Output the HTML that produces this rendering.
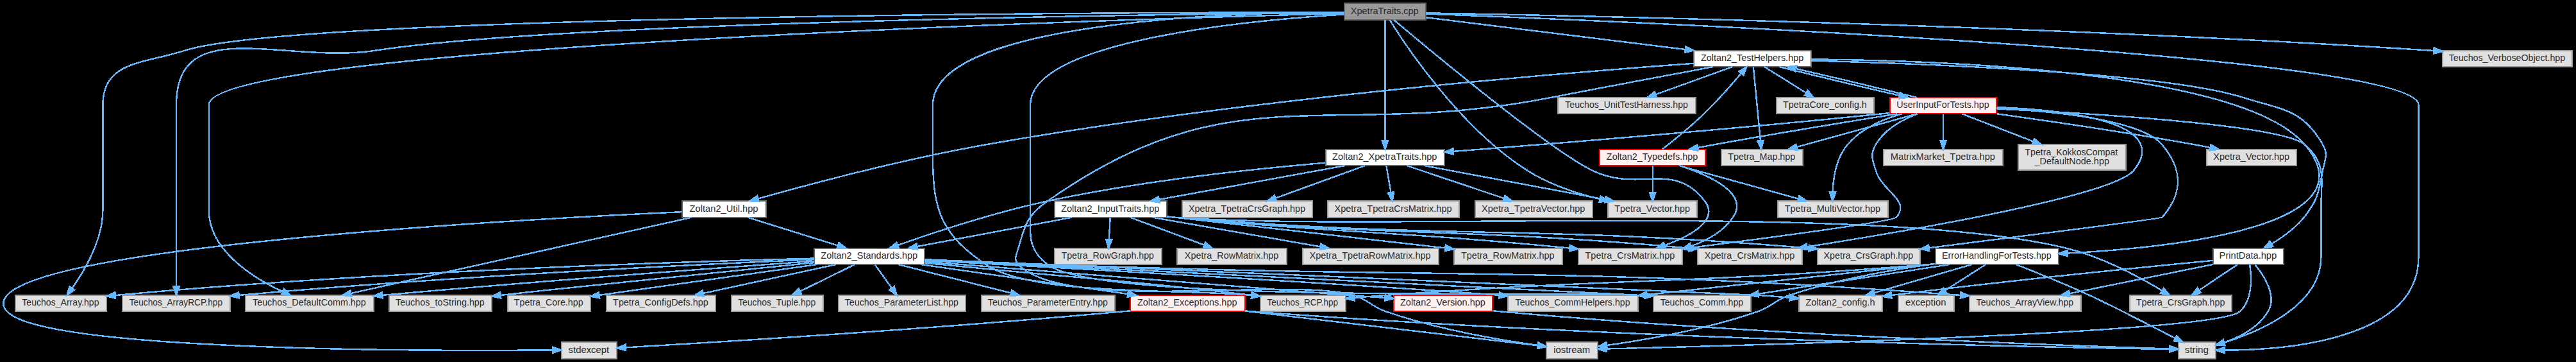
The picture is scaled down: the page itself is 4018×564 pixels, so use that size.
<!DOCTYPE html>
<html><head><meta charset="utf-8"><title>XpetraTraits.cpp include dependency graph</title>
<style>
html,body{margin:0;padding:0;background:#000;width:4018px;height:564px;}
svg{display:block;}
text{font-family:"Liberation Sans",sans-serif;font-size:10.6px;fill:#2a2a2a;}
.e{fill:none;stroke:#63b8ff;stroke-width:1.8;shape-rendering:crispEdges;}
.a{fill:#63b8ff;stroke:#63b8ff;stroke-width:1.8;shape-rendering:crispEdges;}
.n{stroke-width:1.5;shape-rendering:crispEdges;}
</style></head><body>
<svg width="4018" height="564" viewBox="0 0 3013.5 423">
<rect x="0" y="0" width="3013.5" height="423" fill="#000"/>
<g transform="translate(4 419)">
<rect class="n" x="1568.79" y="-415" width="95" height="19" fill="#999999" stroke="#666666"/>
<text text-anchor="middle" x="1615.8" y="-402.7" textLength="79.38" lengthAdjust="spacingAndGlyphs">XpetraTraits.cpp</text>
<rect class="n" x="1546.79" y="-244.5" width="139" height="19" fill="white" stroke="#666666"/>
<text text-anchor="middle" x="1615.8" y="-232.2" textLength="122.48" lengthAdjust="spacingAndGlyphs">Zoltan2_XpetraTraits.hpp</text>
<rect class="n" x="13.79" y="-74" width="107" height="19" fill="#e0e0e0" stroke="#999999"/>
<text text-anchor="middle" x="66.8" y="-61.7" textLength="90.19" lengthAdjust="spacingAndGlyphs">Teuchos_Array.hpp</text>
<rect class="n" x="1470.29" y="-74" width="100" height="19" fill="#e0e0e0" stroke="#999999"/>
<text text-anchor="middle" x="1519.8" y="-61.7" textLength="82.8" lengthAdjust="spacingAndGlyphs">Teuchos_RCP.hpp</text>
<rect class="n" x="283.29" y="-74" width="150" height="19" fill="#e0e0e0" stroke="#999999"/>
<text text-anchor="middle" x="357.8" y="-61.7" textLength="132.58" lengthAdjust="spacingAndGlyphs">Teuchos_DefaultComm.hpp</text>
<rect class="n" x="1877.29" y="-184" width="104" height="19" fill="#e0e0e0" stroke="#999999"/>
<text text-anchor="middle" x="1928.8" y="-171.7" textLength="88.38" lengthAdjust="spacingAndGlyphs">Tpetra_Vector.hpp</text>
<rect class="n" x="1930.29" y="-74" width="114" height="19" fill="#e0e0e0" stroke="#999999"/>
<text text-anchor="middle" x="1986.8" y="-61.7" textLength="97.06" lengthAdjust="spacingAndGlyphs">Teuchos_Comm.hpp</text>
<rect class="n" x="139.29" y="-74" width="126" height="19" fill="#e0e0e0" stroke="#999999"/>
<text text-anchor="middle" x="201.8" y="-61.7" textLength="108.98" lengthAdjust="spacingAndGlyphs">Teuchos_ArrayRCP.hpp</text>
<rect class="n" x="1842.29" y="-129" width="122" height="19" fill="#e0e0e0" stroke="#999999"/>
<text text-anchor="middle" x="1902.8" y="-116.7" textLength="104.75" lengthAdjust="spacingAndGlyphs">Tpetra_CrsMatrix.hpp</text>
<rect class="n" x="2544.29" y="-19" width="44" height="19" fill="#e0e0e0" stroke="#999999"/>
<text text-anchor="middle" x="2565.8" y="-6.7" textLength="27.9" lengthAdjust="spacingAndGlyphs">string</text>
<rect class="n" x="1977.79" y="-360" width="137" height="19" fill="white" stroke="#666666"/>
<text text-anchor="middle" x="2045.8" y="-347.7" textLength="120.21" lengthAdjust="spacingAndGlyphs">Zoltan2_TestHelpers.hpp</text>
<rect class="n" x="2853.29" y="-360" width="152" height="19" fill="#e0e0e0" stroke="#999999"/>
<text text-anchor="middle" x="2928.8" y="-347.7" textLength="136.08" lengthAdjust="spacingAndGlyphs">Teuchos_VerboseObject.hpp</text>
<rect class="n" x="948.79" y="-129" width="129" height="19" fill="white" stroke="#666666"/>
<text text-anchor="middle" x="1012.8" y="-116.7" textLength="113.15" lengthAdjust="spacingAndGlyphs">Zoltan2_Standards.hpp</text>
<rect class="n" x="1229.79" y="-184" width="131" height="19" fill="white" stroke="#666666"/>
<text text-anchor="middle" x="1294.8" y="-171.7" textLength="115.07" lengthAdjust="spacingAndGlyphs">Zoltan2_InputTraits.hpp</text>
<rect class="n" x="1379.29" y="-184" width="152" height="19" fill="#e0e0e0" stroke="#999999"/>
<text text-anchor="middle" x="1454.8" y="-171.7" textLength="136.54" lengthAdjust="spacingAndGlyphs">Xpetra_TpetraCrsGraph.hpp</text>
<rect class="n" x="1549.29" y="-184" width="154" height="19" fill="#e0e0e0" stroke="#999999"/>
<text text-anchor="middle" x="1625.8" y="-171.7" textLength="137.32" lengthAdjust="spacingAndGlyphs">Xpetra_TpetraCrsMatrix.hpp</text>
<rect class="n" x="1721.79" y="-184" width="137" height="19" fill="#e0e0e0" stroke="#999999"/>
<text text-anchor="middle" x="1789.8" y="-171.7" textLength="120.96" lengthAdjust="spacingAndGlyphs">Xpetra_TpetraVector.hpp</text>
<rect class="n" x="2009.79" y="-244.5" width="95" height="19" fill="#e0e0e0" stroke="#999999"/>
<text text-anchor="middle" x="2056.8" y="-232.2" textLength="78.82" lengthAdjust="spacingAndGlyphs">Tpetra_Map.hpp</text>
<rect class="n" x="976.79" y="-74" width="149" height="19" fill="#e0e0e0" stroke="#999999"/>
<text text-anchor="middle" x="1050.8" y="-61.7" textLength="132.95" lengthAdjust="spacingAndGlyphs">Teuchos_ParameterList.hpp</text>
<rect class="n" x="652.79" y="-19" width="65" height="19" fill="#e0e0e0" stroke="#999999"/>
<text text-anchor="middle" x="684.8" y="-6.7" textLength="47.74" lengthAdjust="spacingAndGlyphs">stdexcept</text>
<rect class="n" x="1144.29" y="-74" width="156" height="19" fill="#e0e0e0" stroke="#999999"/>
<text text-anchor="middle" x="1221.8" y="-61.7" textLength="140.44" lengthAdjust="spacingAndGlyphs">Teuchos_ParameterEntry.hpp</text>
<rect class="n" x="1626.29" y="-74" width="116" height="19" fill="#fff0f0" stroke="red"/>
<text text-anchor="middle" x="1683.8" y="-61.7" textLength="99.61" lengthAdjust="spacingAndGlyphs">Zoltan2_Version.hpp</text>
<rect class="n" x="1318.29" y="-74" width="134" height="19" fill="#fff0f0" stroke="red"/>
<text text-anchor="middle" x="1384.8" y="-61.7" textLength="116.77" lengthAdjust="spacingAndGlyphs">Zoltan2_Exceptions.hpp</text>
<rect class="n" x="451.29" y="-74" width="120" height="19" fill="#e0e0e0" stroke="#999999"/>
<text text-anchor="middle" x="510.8" y="-61.7" textLength="104.16" lengthAdjust="spacingAndGlyphs">Teuchos_toString.hpp</text>
<rect class="n" x="589.79" y="-74" width="97" height="19" fill="#e0e0e0" stroke="#999999"/>
<text text-anchor="middle" x="637.8" y="-61.7" textLength="80.8" lengthAdjust="spacingAndGlyphs">Tpetra_Core.hpp</text>
<rect class="n" x="1760.29" y="-74" width="152" height="19" fill="#e0e0e0" stroke="#999999"/>
<text text-anchor="middle" x="1835.8" y="-61.7" textLength="134.27" lengthAdjust="spacingAndGlyphs">Teuchos_CommHelpers.hpp</text>
<rect class="n" x="705.29" y="-74" width="128" height="19" fill="#e0e0e0" stroke="#999999"/>
<text text-anchor="middle" x="768.8" y="-61.7" textLength="111.44" lengthAdjust="spacingAndGlyphs">Tpetra_ConfigDefs.hpp</text>
<rect class="n" x="2299.79" y="-74" width="131" height="19" fill="#e0e0e0" stroke="#999999"/>
<text text-anchor="middle" x="2364.8" y="-61.7" textLength="113.75" lengthAdjust="spacingAndGlyphs">Teuchos_ArrayView.hpp</text>
<rect class="n" x="851.79" y="-74" width="107" height="19" fill="#e0e0e0" stroke="#999999"/>
<text text-anchor="middle" x="904.8" y="-61.7" textLength="90.87" lengthAdjust="spacingAndGlyphs">Teuchos_Tuple.hpp</text>
<rect class="n" x="2100.29" y="-74" width="98" height="19" fill="#e0e0e0" stroke="#999999"/>
<text text-anchor="middle" x="2148.8" y="-61.7" textLength="81.27" lengthAdjust="spacingAndGlyphs">Zoltan2_config.h</text>
<rect class="n" x="1818.79" y="-305" width="161" height="19" fill="#e0e0e0" stroke="#999999"/>
<text text-anchor="middle" x="1898.8" y="-292.7" textLength="143.68" lengthAdjust="spacingAndGlyphs">Teuchos_UnitTestHarness.hpp</text>
<rect class="n" x="1696.79" y="-129" width="127" height="19" fill="#e0e0e0" stroke="#999999"/>
<text text-anchor="middle" x="1759.8" y="-116.7" textLength="109.12" lengthAdjust="spacingAndGlyphs">Tpetra_RowMatrix.hpp</text>
<rect class="n" x="794.29" y="-184" width="98" height="19" fill="white" stroke="#666666"/>
<text text-anchor="middle" x="842.8" y="-171.7" textLength="80.19" lengthAdjust="spacingAndGlyphs">Zoltan2_Util.hpp</text>
<rect class="n" x="1805.29" y="-19" width="60" height="19" fill="#e0e0e0" stroke="#999999"/>
<text text-anchor="middle" x="1834.8" y="-6.7" textLength="42.71" lengthAdjust="spacingAndGlyphs">iostream</text>
<rect class="n" x="2487.79" y="-74" width="119" height="19" fill="#e0e0e0" stroke="#999999"/>
<text text-anchor="middle" x="2546.8" y="-61.7" textLength="103.96" lengthAdjust="spacingAndGlyphs">Tpetra_CrsGraph.hpp</text>
<rect class="n" x="1229.79" y="-129" width="125" height="19" fill="#e0e0e0" stroke="#999999"/>
<text text-anchor="middle" x="1291.8" y="-116.7" textLength="108.33" lengthAdjust="spacingAndGlyphs">Tpetra_RowGraph.hpp</text>
<rect class="n" x="2357.29" y="-250" width="126" height="30" fill="#e0e0e0" stroke="#999999"/>
<text text-anchor="start" x="2364.8" y="-237.7" textLength="108.61" lengthAdjust="spacingAndGlyphs">Tpetra_KokkosCompat</text>
<text text-anchor="middle" x="2419.8" y="-226.7" textLength="87.34" lengthAdjust="spacingAndGlyphs">_DefaultNode.hpp</text>
<rect class="n" x="1373.29" y="-129" width="128" height="19" fill="#e0e0e0" stroke="#999999"/>
<text text-anchor="middle" x="1436.8" y="-116.7" textLength="109.84" lengthAdjust="spacingAndGlyphs">Xpetra_RowMatrix.hpp</text>
<rect class="n" x="1982.29" y="-129" width="122" height="19" fill="#e0e0e0" stroke="#999999"/>
<text text-anchor="middle" x="2042.8" y="-116.7" textLength="105.47" lengthAdjust="spacingAndGlyphs">Xpetra_CrsMatrix.hpp</text>
<rect class="n" x="2122.29" y="-129" width="120" height="19" fill="#e0e0e0" stroke="#999999"/>
<text text-anchor="middle" x="2181.8" y="-116.7" textLength="104.68" lengthAdjust="spacingAndGlyphs">Xpetra_CrsGraph.hpp</text>
<rect class="n" x="1519.79" y="-129" width="159" height="19" fill="#e0e0e0" stroke="#999999"/>
<text text-anchor="middle" x="1598.8" y="-116.7" textLength="141.69" lengthAdjust="spacingAndGlyphs">Xpetra_TpetraRowMatrix.hpp</text>
<rect class="n" x="2075.79" y="-184" width="129" height="19" fill="#e0e0e0" stroke="#999999"/>
<text text-anchor="middle" x="2139.8" y="-171.7" textLength="112.14" lengthAdjust="spacingAndGlyphs">Tpetra_MultiVector.hpp</text>
<rect class="n" x="2074.29" y="-305" width="114" height="19" fill="#e0e0e0" stroke="#999999"/>
<text text-anchor="middle" x="2130.8" y="-292.7" textLength="98.2" lengthAdjust="spacingAndGlyphs">TpetraCore_config.h</text>
<rect class="n" x="2577.79" y="-244.5" width="105" height="19" fill="#e0e0e0" stroke="#999999"/>
<text text-anchor="middle" x="2629.8" y="-232.2" textLength="89.11" lengthAdjust="spacingAndGlyphs">Xpetra_Vector.hpp</text>
<rect class="n" x="2216.79" y="-74" width="65" height="19" fill="#e0e0e0" stroke="#999999"/>
<text text-anchor="middle" x="2248.8" y="-61.7" textLength="47.51" lengthAdjust="spacingAndGlyphs">exception</text>
<rect class="n" x="2584.79" y="-129" width="83" height="19" fill="white" stroke="#666666"/>
<text text-anchor="middle" x="2625.8" y="-116.7" textLength="67.16" lengthAdjust="spacingAndGlyphs">PrintData.hpp</text>
<rect class="n" x="2260.29" y="-129" width="144" height="19" fill="white" stroke="#666666"/>
<text text-anchor="middle" x="2331.8" y="-116.7" textLength="128" lengthAdjust="spacingAndGlyphs">ErrorHandlingForTests.hpp</text>
<rect class="n" x="2206.79" y="-305" width="125" height="19" fill="#fff0f0" stroke="red"/>
<text text-anchor="middle" x="2268.8" y="-292.7" textLength="108.31" lengthAdjust="spacingAndGlyphs">UserInputForTests.hpp</text>
<rect class="n" x="2199.29" y="-244.5" width="140" height="19" fill="#e0e0e0" stroke="#999999"/>
<text text-anchor="middle" x="2268.8" y="-232.2" textLength="122.32" lengthAdjust="spacingAndGlyphs">MatrixMarket_Tpetra.hpp</text>
<rect class="n" x="1867.29" y="-244.5" width="124" height="19" fill="#fff0f0" stroke="red"/>
<text text-anchor="middle" x="1928.8" y="-232.2" textLength="106.83" lengthAdjust="spacingAndGlyphs">Zoltan2_Typedefs.hpp</text>
<path class="e" d="M1616.29,-395.91C1616.29,-369.89 1616.29,-291.47 1616.29,-255.01"/>
<polygon class="a" points="1619.79,-254.77 1616.29,-244.77 1612.79,-254.77"/>
<path class="e" d="M1568.76,-404.53C1338.38,-404.48 343.66,-401.8 212.29,-360 163.54,-344.49 116.29,-347.66 116.29,-296.5 116.29,-296.5 116.29,-296.5 116.29,-173.5 116.29,-138.68 94.91,-102.74 80.39,-82.35"/>
<polygon class="a" points="83.07,-80.09 74.31,-74.13 77.45,-84.25"/>
<path class="e" d="M1568.41,-404.82C1438.19,-404.4 1087.29,-394.22 1087.29,-296.5 1087.29,-296.5 1087.29,-296.5 1087.29,-234 1087.29,-172.38 1098.12,-144.32 1149.29,-110 1203.93,-72.46 1377.9,-82.03 1460.05,-73.96"/>
<polygon class="a" points="1460.54,-77.43 1470.09,-72.83 1459.76,-70.47"/>
<path class="e" d="M1568.52,-403.31C1325.77,-396.93 240.29,-364.61 240.29,-296.5 240.29,-296.5 240.29,-296.5 240.29,-173.5 240.29,-126.67 291.5,-94.67 326.45,-78.28"/>
<polygon class="a" points="328.13,-81.37 335.82,-74.08 325.26,-74.98"/>
<path class="e" d="M1621.68,-395.64C1640.16,-366.05 1704.1,-269.68 1782.29,-220 1807.95,-203.7 1839.9,-193.09 1867.46,-186.34"/>
<polygon class="a" points="1868.45,-189.7 1877.39,-184.02 1866.86,-182.88"/>
<path class="e" d="M1568.68,-402.15C1459.68,-395.46 1201.29,-371.69 1201.29,-296.5 1201.29,-296.5 1201.29,-296.5 1201.29,-173.5 1201.29,-143.91 1197.89,-128.11 1221.29,-110 1280.84,-63.92 1807.03,-79.81 1919.94,-73.84"/>
<polygon class="a" points="1920.34,-77.32 1930.08,-73.14 1919.86,-70.33"/>
<path class="e" d="M1568.67,-404.16C1376.72,-402.54 659.4,-394.3 435.29,-360 329.19,-343.76 202.29,-403.83 202.29,-296.5 202.29,-296.5 202.29,-296.5 202.29,-173.5 202.29,-142.19 202.29,-105.77 202.29,-84.23"/>
<polygon class="a" points="205.79,-84.18 202.29,-74.18 198.79,-84.18"/>
<path class="e" d="M1626.47,-395.88C1665.55,-362.96 1806.3,-245.68 1858.29,-220 1912.81,-193.07 1953.38,-232.33 1990.29,-184 2007.5,-161.47 1973.82,-143.36 1943.48,-132.33"/>
<polygon class="a" points="1944.42,-128.95 1933.82,-129 1942.14,-135.57"/>
<path class="e" d="M1664.06,-402.78C1888.25,-394.41 2825.29,-355.87 2825.29,-296.5 2825.29,-296.5 2825.29,-296.5 2825.29,-118.5 2825.29,-21.39 2668.26,-10.03 2598.74,-9.76"/>
<polygon class="a" points="2598.36,-6.26 2588.37,-9.8 2598.38,-13.26"/>
<path class="e" d="M1663.95,-398.63C1737.33,-389.58 1878.76,-372.15 1967.51,-361.21"/>
<polygon class="a" points="1968.04,-364.67 1977.54,-359.97 1967.18,-357.72"/>
<path class="e" d="M1663.84,-403.76C1827.44,-401 2382.13,-389.88 2839.29,-360 2840.57,-359.92 2841.85,-359.83 2843.15,-359.74"/>
<polygon class="a" points="2843.49,-363.22 2853.2,-359 2842.97,-356.24"/>
<path class="e" d="M1546.47,-228.78C1467.06,-222.01 1333.82,-208.12 1221.29,-184 1158.33,-170.51 1086.94,-146.81 1046.3,-132.49"/>
<polygon class="a" points="1047.25,-129.11 1036.65,-129.07 1044.9,-135.71"/>
<path class="e" d="M1661.8,-225.49C1717.9,-215.01 1813.19,-197.2 1873.6,-185.91"/>
<polygon class="a" points="1874.53,-189.29 1883.72,-184.02 1873.25,-182.41"/>
<path class="e" d="M1569.61,-225.49C1511.96,-214.99 1413.95,-197.12 1352.02,-185.84"/>
<polygon class="a" points="1352.49,-182.37 1342.02,-184.02 1351.23,-189.25"/>
<path class="e" d="M1592.88,-225.49C1565.33,-215.49 1519.42,-198.8 1488.28,-187.49"/>
<polygon class="a" points="1489.32,-184.14 1478.73,-184.02 1486.93,-190.72"/>
<path class="e" d="M1617.76,-225.37C1619.17,-217.16 1621.32,-204.54 1623.12,-194.05"/>
<polygon class="a" points="1626.57,-194.61 1624.81,-184.17 1619.67,-193.43"/>
<path class="e" d="M1641.59,-225.49C1671.49,-215.44 1721.41,-198.66 1755.07,-187.34"/>
<polygon class="a" points="1756.59,-190.52 1764.96,-184.02 1754.36,-183.89"/>
<path class="e" d="M1019.56,-109.75C1024.88,-102.34 1032.64,-91.5 1039.16,-82.41"/>
<polygon class="a" points="1042.15,-84.26 1045.13,-74.09 1036.46,-80.18"/>
<path class="e" d="M948.62,-117.1C804.08,-113.55 443.63,-102.5 131.04,-73.98"/>
<polygon class="a" points="131.15,-70.47 120.87,-73.04 130.51,-77.44"/>
<path class="e" d="M1046.87,-109.98C1082.64,-100.91 1139.41,-86.52 1178.63,-76.57"/>
<polygon class="a" points="1179.61,-79.93 1188.45,-74.08 1177.89,-73.15"/>
<path class="e" d="M1077.92,-113.35C1183.25,-105.08 1394.77,-88.32 1574.29,-74 1587.85,-73.04 1602.16,-72.02 1616.08,-71.03"/>
<polygon class="a" points="1616.56,-74.5 1626.25,-70.21 1616,-67.53"/>
<path class="e" d="M1077.95,-111.5C1084.47,-110.99 1090.95,-110.48 1097.29,-110 1255.18,-93.76 1298.74,-93.44 1459.92,-74.12"/>
<polygon class="a" points="1460.59,-77.56 1470.09,-72.88 1459.74,-70.62"/>
<path class="e" d="M1073.06,-109.98C1139.12,-100.57 1245.42,-85.43 1315.32,-75.47"/>
<polygon class="a" points="1315.95,-78.91 1325.36,-74.04 1314.97,-71.98"/>
<path class="e" d="M948.6,-113.95C844.56,-106.52 633.35,-90.99 443.55,-74.09"/>
<polygon class="a" points="443.66,-70.59 433.39,-73.19 443.04,-77.56"/>
<path class="e" d="M948.48,-112.19C866.01,-104.09 718.88,-89.35 581.87,-74.05"/>
<polygon class="a" points="581.94,-70.53 571.61,-72.9 581.16,-77.49"/>
<path class="e" d="M1078.01,-115.34C1271.43,-105.88 1836.41,-78.26 1919.88,-73.75"/>
<polygon class="a" points="1920.3,-77.23 1930.08,-73.15 1919.89,-70.24"/>
<path class="e" d="M948.45,-115.85C821.44,-110.38 530.77,-96.52 275.69,-74.07"/>
<polygon class="a" points="275.75,-70.56 265.48,-73.17 275.14,-77.54"/>
<path class="e" d="M951.91,-110C890.22,-101.42 792.12,-87.72 697.1,-74.11"/>
<polygon class="a" points="697.42,-70.62 687.02,-72.66 696.42,-77.55"/>
<path class="e" d="M1077.79,-114.88C1230.69,-106.43 1602.13,-85.33 1749.84,-74.08"/>
<polygon class="a" points="1750.15,-77.56 1759.84,-73.28 1749.6,-70.59"/>
<path class="e" d="M974.09,-109.98C931.88,-100.82 864.64,-86.21 818.81,-76.26"/>
<polygon class="a" points="819.31,-72.78 808.8,-74.08 817.83,-79.63"/>
<path class="e" d="M1077.93,-115.74C1118.99,-114.01 1173.25,-111.79 1221.29,-110 1693.42,-92.41 1815.05,-108.94 2289.35,-74.08"/>
<polygon class="a" points="2289.83,-77.56 2299.55,-73.33 2289.32,-70.58"/>
<path class="e" d="M995.94,-109.98C978.72,-101.54 952.09,-88.47 932.14,-78.68"/>
<polygon class="a" points="933.48,-75.43 922.96,-74.17 930.39,-81.72"/>
<path class="e" d="M1077.96,-115.81C1297.68,-106.68 2004.6,-77.2 2053.29,-74 2065.16,-73.22 2077.84,-72.22 2089.97,-71.18"/>
<polygon class="a" points="2090.33,-74.66 2099.99,-70.3 2089.72,-67.69"/>
<path class="e" d="M794.19,-171.4C622.58,-163.58 57.11,-133.45 4.29,-74 -1.32,-67.69 -1.48,-61.16 4.29,-55 47.9,-8.45 500.08,-8.73 642.55,-9.99"/>
<polygon class="a" points="642.62,-13.49 652.65,-10.08 642.69,-6.49"/>
<path class="e" d="M870.6,-164.98C899.14,-156.09 944.11,-142.07 975.93,-132.15"/>
<polygon class="a" points="977.26,-135.4 985.76,-129.08 975.17,-128.72"/>
<path class="e" d="M804.83,-164.94C717.19,-145.42 502.83,-97.69 406.53,-76.24"/>
<polygon class="a" points="407.28,-72.82 396.76,-74.07 405.76,-79.66"/>
<path class="e" d="M1742.36,-55.87C1745.38,-55.56 1748.37,-55.26 1751.29,-55 2055.17,-27.46 2424.46,-14.77 2534.12,-11.43"/>
<polygon class="a" points="2534.31,-14.92 2544.2,-11.12 2534.1,-7.93"/>
<path class="e" d="M1318.17,-55.84C1315.17,-55.55 1312.2,-55.27 1309.29,-55 1090.97,-35.01 828.98,-18.88 727.92,-12.95"/>
<polygon class="a" points="727.99,-9.45 717.81,-12.36 727.59,-16.43"/>
<path class="e" d="M1452.66,-55.57C1547.5,-44.4 1717.42,-24.38 1794.85,-15.26"/>
<polygon class="a" points="1795.63,-18.7 1805.15,-14.05 1794.81,-11.74"/>
<path class="e" d="M1452.4,-55.73C1455.4,-55.47 1458.38,-55.22 1461.29,-55 1884.45,-22.86 2400.65,-13.05 2533.76,-10.96"/>
<polygon class="a" points="2534.13,-14.46 2544.07,-10.81 2534.02,-7.46"/>
<path class="e" d="M1249.98,-164.98C1200.69,-155.72 1121.86,-140.9 1068.86,-130.94"/>
<polygon class="a" points="1069.43,-127.49 1058.95,-129.08 1068.13,-134.37"/>
<path class="e" d="M1361.14,-166.04C1364.23,-165.69 1367.29,-165.34 1370.29,-165 1508.31,-149.37 1545.28,-145.52 1686.35,-129.22"/>
<polygon class="a" points="1687.16,-132.65 1696.69,-128.03 1686.35,-125.7"/>
<path class="e" d="M1361.11,-165.74C1364.21,-165.47 1367.28,-165.22 1370.29,-165 1601.58,-147.93 2187.94,-183.79 2413.29,-129 2455.17,-118.82 2499.59,-94.79 2525.31,-79.38"/>
<polygon class="a" points="2527.19,-82.34 2533.9,-74.14 2523.54,-76.36"/>
<path class="e" d="M1294.79,-164.75C1294.4,-157.8 1293.84,-147.85 1293.34,-139.13"/>
<polygon class="a" points="1296.83,-138.88 1292.77,-129.09 1289.85,-139.27"/>
<path class="e" d="M1318.1,-164.98C1341.46,-156.27 1377.99,-142.63 1404.46,-132.75"/>
<polygon class="a" points="1405.91,-135.95 1414.06,-129.17 1403.47,-129.39"/>
<path class="e" d="M1361.13,-165.91C1364.22,-165.59 1367.29,-165.29 1370.29,-165 1572.44,-145.69 1626.18,-149.32 1831.99,-129.09"/>
<polygon class="a" points="1832.62,-132.54 1842.22,-128.07 1831.93,-125.58"/>
<path class="e" d="M1361.12,-165.84C1364.22,-165.54 1367.29,-165.26 1370.29,-165 1634.5,-142.16 1704.21,-152.92 1972.2,-129.04"/>
<polygon class="a" points="1972.58,-132.52 1982.23,-128.14 1971.96,-125.55"/>
<path class="e" d="M1361.12,-165.8C1364.21,-165.51 1367.28,-165.24 1370.29,-165 1696.45,-138.64 1782.14,-156.85 2111.78,-129.06"/>
<polygon class="a" points="2112.44,-132.52 2122.11,-128.18 2111.84,-125.54"/>
<path class="e" d="M1344.13,-164.98C1397.57,-155.67 1483.21,-140.74 1540.35,-130.78"/>
<polygon class="a" points="1541.07,-134.2 1550.32,-129.04 1539.86,-127.31"/>
<path class="e" d="M2047.12,-340.97C2048.88,-322.73 2053.07,-279.57 2055.48,-254.64"/>
<polygon class="a" points="2058.97,-254.92 2056.45,-244.63 2052,-254.25"/>
<path class="e" d="M2022.67,-340.98C1998.38,-332.23 1960.34,-318.51 1932.91,-308.62"/>
<polygon class="a" points="1933.93,-305.27 1923.34,-305.17 1931.56,-311.85"/>
<path class="e" d="M1977.78,-344.92C1827.12,-334.17 1455.96,-304.11 1149.29,-250 1052.52,-232.93 940.82,-203.11 882.84,-186.86"/>
<polygon class="a" points="883.56,-183.42 872.99,-184.08 881.66,-190.16"/>
<path class="e" d="M2000.13,-340.98C1952.53,-332.15 1876.17,-317.87 1810.29,-305 1548,-253.76 1440.15,-337.36 1221.29,-184 1197.75,-167.51 1195.14,-156.64 1187.29,-129 1184.98,-120.88 1181.51,-116.16 1187.29,-110 1242.03,-52.64 1503.13,-96.09 1579.29,-74 1597.42,-68.74 1599.44,-61.16 1617.29,-55 1677.45,-34.22 1750.49,-21.76 1794.9,-15.51"/>
<polygon class="a" points="1795.57,-18.95 1805.01,-14.13 1794.62,-12.01"/>
<path class="e" d="M2059.95,-340.98C2073.13,-332.77 2093.32,-320.18 2108.86,-310.49"/>
<polygon class="a" points="2110.75,-313.43 2117.38,-305.17 2107.05,-307.49"/>
<path class="e" d="M2114.97,-348.06C2246.23,-344.68 2527.89,-334.16 2620.29,-305 2666.08,-290.55 2689.5,-291.71 2713.29,-250 2719.89,-238.42 2715.81,-233.09 2713.29,-220 2708.31,-194.15 2707.75,-185.55 2691.29,-165 2681.1,-152.29 2666.33,-141.77 2653.44,-134.16"/>
<polygon class="a" points="2654.91,-130.98 2644.48,-129.14 2651.49,-137.08"/>
<path class="e" d="M2114.91,-349.68C2265.73,-348.45 2618.52,-336.23 2692.29,-250 2772.9,-155.77 2544.47,-130.11 2414.88,-123.12"/>
<polygon class="a" points="2414.75,-119.61 2404.58,-122.59 2414.39,-126.6"/>
<path class="e" d="M2077,-340.98C2113.48,-331.84 2174.6,-317.27 2218.2,-307.32"/>
<polygon class="a" points="2219.07,-310.71 2228.05,-305.08 2217.52,-303.88"/>
<path class="e" d="M2627.9,-109.98C2629.98,-96.14 2631.67,-68.93 2616.29,-55 2588.61,-29.94 2031.98,-15.09 1875.75,-11.41"/>
<polygon class="a" points="1875.7,-7.91 1865.62,-11.17 1875.54,-14.9"/>
<path class="e" d="M2613.6,-109.98C2601.46,-101.84 2582.93,-89.41 2568.54,-79.76"/>
<polygon class="a" points="2570.47,-76.84 2560.21,-74.17 2566.57,-82.65"/>
<path class="e" d="M2634.03,-109.82C2644.35,-97.15 2660.13,-73.11 2649.29,-55 2638.19,-36.45 2616.41,-25.19 2597.94,-18.64"/>
<polygon class="a" points="2598.98,-15.3 2588.39,-15.55 2596.83,-21.96"/>
<path class="e" d="M2584.64,-110.04C2539.13,-100.8 2466.17,-85.99 2417.02,-76"/>
<polygon class="a" points="2417.71,-72.57 2407.22,-74.01 2416.32,-79.43"/>
<path class="e" d="M2584.7,-114.59C2511.17,-107.56 2353.18,-91.95 2208.48,-73.98"/>
<polygon class="a" points="2208.88,-70.5 2198.53,-72.73 2208.02,-77.44"/>
<path class="e" d="M1929.29,-225.37C1929.29,-217.25 1929.29,-204.81 1929.29,-194.39"/>
<polygon class="a" points="1932.79,-194.17 1929.29,-184.17 1925.79,-194.17"/>
<path class="e" d="M1959.97,-225.49C1996.85,-215.27 2058.86,-198.08 2099.68,-186.76"/>
<polygon class="a" points="2100.87,-190.06 2109.57,-184.02 2099,-183.32"/>
<path class="e" d="M1960.64,-225.44C1995.04,-214.41 2042.94,-193.25 2023.29,-165 2011.73,-148.38 1993.2,-137.96 1974.12,-131.42"/>
<polygon class="a" points="1975.02,-128.04 1964.44,-128.43 1972.96,-134.72"/>
<path class="e" d="M1940.76,-244.75C1953.16,-254.39 1973.28,-270.57 1989.29,-286 2005.04,-301.18 2021.58,-319.97 2032.76,-333.16"/>
<polygon class="a" points="2030.17,-335.51 2039.28,-340.93 2035.53,-331.02"/>
<path class="e" d="M2259.88,-110.73C2257.31,-110.47 2254.78,-110.23 2252.29,-110 1969.97,-87.2 1898.79,-94.38 1616.29,-74 1604.76,-73.15 1592.44,-72.12 1580.64,-71.08"/>
<polygon class="a" points="1580.87,-67.59 1570.61,-70.21 1580.27,-74.56"/>
<path class="e" d="M2260.21,-110.8C2211.24,-104.23 2145.22,-92.77 2089.29,-74 2071.7,-68.02 2069.8,-61.16 2052.29,-55 1992.45,-34.22 1919.75,-21.76 1875.67,-15.51"/>
<polygon class="a" points="1875.95,-12.01 1865.57,-14.13 1875,-18.95"/>
<path class="e" d="M2276.86,-109.98C2215.84,-100.61 2117.81,-85.55 2052.98,-75.59"/>
<polygon class="a" points="2053.28,-72.1 2042.87,-74.04 2052.22,-79.02"/>
<path class="e" d="M2354.42,-109.95C2376.4,-101.33 2410.96,-87.41 2440.29,-74 2459.47,-65.23 2509.85,-39.53 2540.78,-23.64"/>
<polygon class="a" points="2542.41,-26.74 2549.7,-19.06 2539.21,-20.52"/>
<path class="e" d="M2260.26,-110.85C2171.07,-101.27 2017.72,-84.88 1922.39,-74.64"/>
<polygon class="a" points="1922.7,-71.16 1912.38,-73.58 1921.96,-78.12"/>
<path class="e" d="M2318.95,-109.98C2306.2,-101.84 2286.74,-89.41 2271.62,-79.76"/>
<polygon class="a" points="2273.18,-76.6 2262.87,-74.17 2269.41,-82.5"/>
<path class="e" d="M2302.89,-109.98C2271.9,-101.01 2222.91,-86.82 2188.62,-76.89"/>
<polygon class="a" points="2189.5,-73.5 2178.92,-74.08 2187.55,-80.23"/>
<path class="e" d="M2206.47,-286.97C2203.37,-286.63 2200.29,-286.31 2197.29,-286 2018.55,-267.76 1808.43,-250.78 1696.32,-242.08"/>
<polygon class="a" points="1696.35,-238.57 1686.11,-241.29 1695.81,-245.55"/>
<path class="e" d="M2238.46,-285.99C2201.33,-275.75 2138.84,-258.5 2097.83,-247.19"/>
<polygon class="a" points="2098.72,-243.8 2088.15,-244.52 2096.86,-250.55"/>
<path class="e" d="M2291.25,-285.99C2312.98,-277.57 2346.9,-264.43 2374.51,-253.73"/>
<polygon class="a" points="2375.93,-256.94 2383.99,-250.06 2373.4,-250.41"/>
<path class="e" d="M2220.74,-285.99C2198.4,-279.67 2173.35,-268.75 2157.29,-250 2144.1,-234.61 2140.6,-211.06 2139.92,-194.57"/>
<polygon class="a" points="2143.42,-194.43 2139.81,-184.47 2136.42,-194.5"/>
<path class="e" d="M2239.02,-285.92C2221.45,-279.21 2200.77,-267.94 2190.29,-250 2183.56,-238.49 2186.42,-232.76 2190.29,-220 2198.02,-194.47 2231.76,-185.15 2214.29,-165 2210.36,-160.47 2064.99,-141.15 1974.41,-129.51"/>
<polygon class="a" points="1974.83,-126.04 1964.47,-128.24 1973.94,-132.98"/>
<path class="e" d="M2332.09,-291.81C2443.28,-286.48 2665.62,-273.06 2692.29,-250 2718.14,-227.65 2711.29,-209.67 2711.29,-175.5 2711.29,-175.5 2711.29,-175.5 2711.29,-118.5 2711.29,-62.42 2640.65,-32.01 2597.98,-18.76"/>
<polygon class="a" points="2598.89,-15.38 2588.31,-15.9 2596.91,-22.09"/>
<path class="e" d="M2331.97,-286.05C2391.61,-277.76 2483.78,-264.31 2563.29,-250 2569.13,-248.95 2575.25,-247.77 2581.31,-246.56"/>
<polygon class="a" points="2582.29,-249.94 2591.39,-244.51 2580.89,-243.08"/>
<path class="e" d="M2332.11,-293.74C2412.85,-290.51 2537.56,-276.57 2492.29,-220 2468.41,-190.17 2229.2,-149.32 2110.03,-130.61"/>
<polygon class="a" points="2110.35,-127.11 2099.93,-129.03 2109.27,-134.03"/>
<path class="e" d="M2238.31,-305.08C2201.71,-314.26 2140.57,-328.82 2097.06,-338.75"/>
<polygon class="a" points="2096.21,-335.36 2087.23,-340.98 2097.76,-342.18"/>
<path class="e" d="M2331.81,-292.56C2399.49,-288.98 2501.04,-278.83 2525.29,-250 2549.61,-221.09 2550.22,-193.38 2525.29,-165 2524.17,-163.72 2352.65,-141.94 2252.62,-129.33"/>
<polygon class="a" points="2252.93,-125.85 2242.57,-128.07 2252.06,-132.79"/>
<path class="e" d="M2269.29,-285.87C2269.29,-277.75 2269.29,-265.31 2269.29,-254.89"/>
<polygon class="a" points="2272.79,-254.67 2269.29,-244.67 2265.79,-254.67"/>
<path class="e" d="M2215.31,-285.98C2161.14,-277.33 2075.32,-263.34 2001.29,-250 1995.12,-248.89 1988.66,-247.69 1982.25,-246.47"/>
<polygon class="a" points="1982.75,-243 1972.27,-244.56 1981.44,-249.88"/>
</g>
</svg>
</body></html>
